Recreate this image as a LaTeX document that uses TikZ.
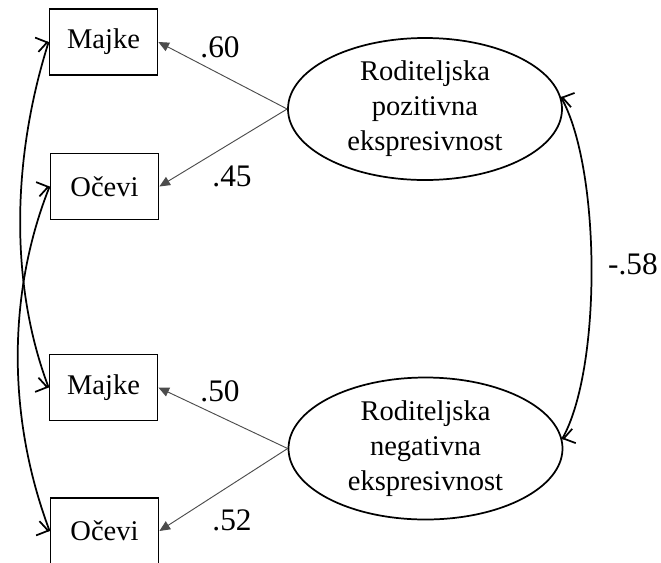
\documentclass[tikz,border=0pt]{standalone}
\usepackage{fontspec}
\setmainfont{Liberation Serif}
\usetikzlibrary{arrows.meta,shapes.geometric,calc}
\begin{document}
\begin{tikzpicture}[x=0.75pt,y=-0.75pt,
 obs/.style={draw, line width=1.3pt, rectangle, minimum width=81pt, minimum height=49.5pt, inner sep=0pt, font=\fontsize{21.4}{26}\selectfont},
 lat/.style={draw, line width=1.3pt, ellipse, minimum width=205.5pt, minimum height=106.5pt, inner sep=0pt, align=center, font=\fontsize{21.4}{26.25}\selectfont},
 load/.style={draw=black!70, line width=0.7pt, -{Triangle[length=8pt,width=7pt]}},
 cov/.style={line width=1.3pt},
 covtip/.style={line width=1.3pt, -{Straight Barb[length=8pt,width=11pt]}},
 lbl/.style={font=\fontsize{23.5}{28}\selectfont, inner sep=0pt}]
\useasboundingbox (0,0) rectangle (661,562);
\node[obs] (b1) at (103.5,42) {Majke};
\node[obs] (b2) at (104.5,186.5) {Očevi};
\node[obs] (b3) at (103.5,387.5) {Majke};
\node[obs] (b4) at (104.5,531) {Očevi};
\node[lat] (e1) at (425,109) {Roditeljska\\pozitivna\\ekspresivnost};
\node[lat] (e2) at (425.5,448.5) {Roditeljska\\negativna\\ekspresivnost};
\draw[load] (e1.west) -- (b1.east);
\draw[load] (e1.west) -- (b2.east);
\draw[load] (e2.west) -- (b3.east);
\draw[load] (e2.west) -- (b4.east);
\node[lbl] (l1) at (220,47) {.60};
\node[lbl] (l2) at (232,176) {.45};
\node[lbl] (l3) at (220,391) {.50};
\node[lbl] (l4) at (232,520) {.52};
\node[lbl] (l5) at (633,264) {-.58};
\draw[cov] (b1.west) .. controls +(-38,120) and +(-38,-100) .. (b3.west);
\draw[cov] (b2.west) .. controls +(-40,100) and +(-45,-120) .. (b4.west);
\draw[cov] (e1.5) .. controls +(40,70) and +(40,-70) .. (e2.4);
\draw[covtip] ($(b1.west)+(167:1)$) -- (b1.west);
\draw[covtip] ($(b2.west)+(167:1)$) -- (b2.west);
\draw[covtip] ($(b3.west)+(193:1)$) -- (b3.west);
\draw[covtip] ($(b4.west)+(193:1)$) -- (b4.west);
\draw[covtip] ($(e1.5)+(14:1)$) -- (e1.5);
\draw[covtip] ($(e2.4)+(-14:1)$) -- (e2.4);
\end{tikzpicture}
\end{document}
